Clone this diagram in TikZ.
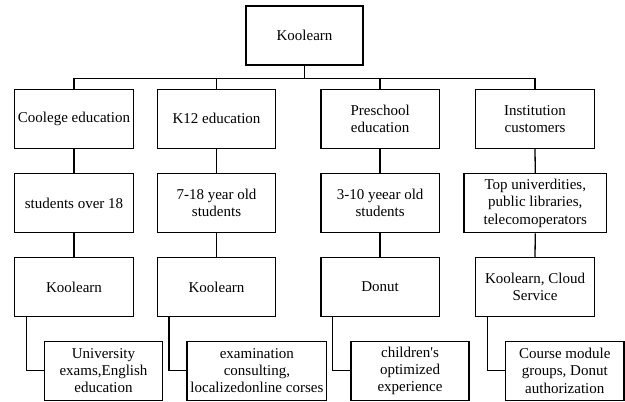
\documentclass[tikz,border=0pt]{standalone}
\usepackage{fontspec}
\setmainfont{LiberationSerif}[Extension=.ttf, UprightFont=*-Regular, BoldFont=*-Bold, ItalicFont=*-Italic, BoldItalicFont=*-BoldItalic]
\begin{document}
\begin{tikzpicture}[x=1pt,y=-1pt,
  box/.style={draw, line width=1.3pt, minimum height=59pt, align=center, inner sep=0pt,
    font=\fontsize{15}{17.3}\selectfont},
  link/.style={line width=1.3pt}]
\useasboundingbox (0,0) rectangle (625,402);
\coordinate (barY) at (0,78.3);
% top
\node[box, minimum width=117pt] (top) at (304.5,35.5) {Koolearn};
% level 1
\node[box, minimum width=118.6pt] (a1) at (74,118.8) {Coolege education};
\node[box, minimum width=118.4pt] (a2) at (216.5,118.8) {K12 education};
\node[box, minimum width=118.3pt] (a3) at (380.1,118.8) {Preschool\\education};
\node[box, minimum width=118.6pt] (a4) at (535,118.8) {Institution\\customers};
% level 2
\node[box, minimum width=118.6pt] (b1) at (74,203.2) {students over 18};
\node[box, minimum width=118.4pt] (b2) at (216.5,203.2) {7-18 year old\\students};
\node[box, minimum width=118.3pt] (b3) at (380.1,203.2) {3-10 yeear old\\students};
\node[box, minimum width=142.7pt] (b4) at (535.3,203.2) {Top univerdities,\\public libraries,\\telecomoperators};
% level 3
\node[box, minimum width=118.6pt] (c1) at (74,287.1) {Koolearn};
\node[box, minimum width=118.4pt] (c2) at (216.5,287.1) {Koolearn};
\node[box, minimum width=118.3pt] (c3) at (380.1,287.1) {Donut};
\node[box, minimum width=118.6pt] (c4) at (535,287.1) {Koolearn, Cloud\\Service};
% level 4
\node[box, minimum width=118.4pt] (d1) at (103.5,370.8) {University\\exams,English\\education};
\node[box, minimum width=139.7pt] (d2) at (256.9,370.8) {examination\\consulting,\\localizedonline corses};
\node[box, minimum width=118pt] (d3) at (410,370.8) {children\textquotesingle s\\optimized\\experience};
\node[box, minimum width=118.3pt] (d4) at (564.8,370.8) {Course module\\groups, Donut\\authorization};
% connectors
\draw[link] (top.south) -- (top.south |- barY);
\draw[link] (a1.north) |- (a4.north |- barY) -- (a4.north);
\draw[link] (a2.north) -- (a2.north |- barY);
\draw[link] (a3.north) -- (a3.north |- barY);
\foreach \i in {1,2,3,4}{
  \draw[link] (a\i.south) -- (b\i.north);
  \draw[link] (b\i.south) -- (c\i.north);
  \draw[link] ([xshift=12.3pt]c\i.south west) |- (d\i.west);
}
\end{tikzpicture}
\end{document}
